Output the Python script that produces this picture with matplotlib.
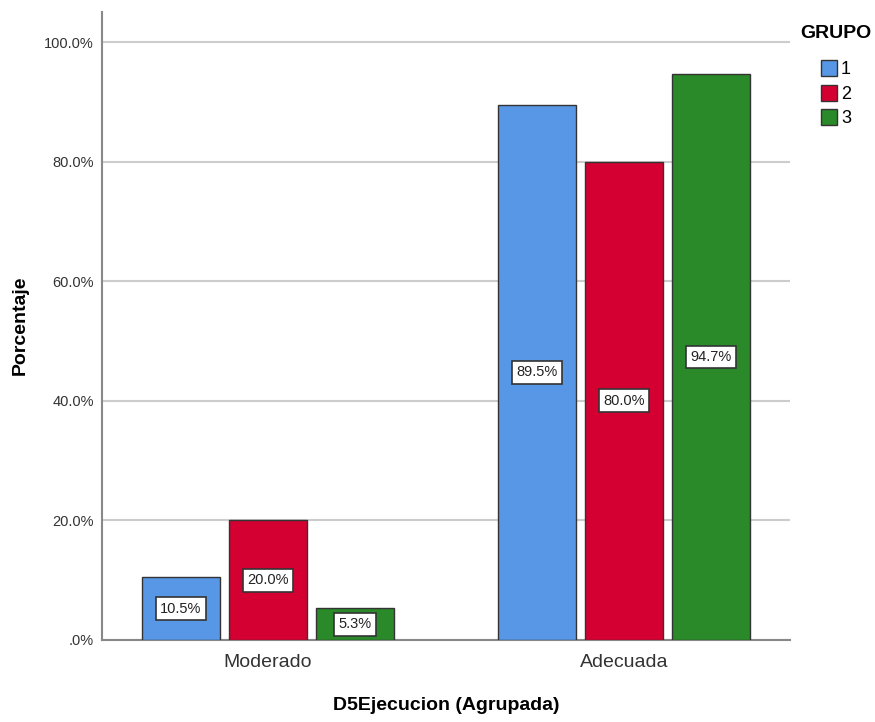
import matplotlib
matplotlib.use('Agg')
import matplotlib.pyplot as plt
import numpy as np

plt.rcParams['font.family'] = ['Liberation Sans', 'DejaVu Sans']

categorias = ['Moderado', 'Adecuada']
grupos = ['1', '2', '3']
grupo1 = [10.5, 89.5]
grupo2 = [20.0, 80.0]
grupo3 = [5.3, 94.7]
colores = ['#5797e6', '#d50032', '#2a8a2a']

fig = plt.figure(figsize=(8.75, 7.22), dpi=100)
ax = fig.add_axes([0.1166, 0.1136, 0.7864, 0.8694])

x = np.arange(len(categorias))
ancho = 0.219
paso = 0.2445
for i, (vals, col, g) in enumerate(zip([grupo1, grupo2, grupo3], colores, grupos)):
    pos = x + (i - 1) * paso
    ax.bar(pos, vals, width=ancho, color=col, edgecolor='#333333', linewidth=1, label=g, zorder=3)
    for p, v in zip(pos, vals):
        ax.text(p, v / 2, f'{v:.1f}%', ha='center', va='center', fontsize=10.5, color='#222222',
                bbox=dict(boxstyle='square,pad=0.3', fc='white', ec='#333333', lw=1.2), zorder=4)

ax.set_xlim(-0.466, 1.466)
ax.set_ylim(0, 105)
ax.set_yticks([0, 20, 40, 60, 80, 100])
ax.set_yticklabels(['.0%', '20.0%', '40.0%', '60.0%', '80.0%', '100.0%'], fontsize=10.5, color='#333333')
ax.set_xticks(x)
ax.set_xticklabels(categorias, fontsize=14, color='#333333')
ax.tick_params(axis='both', length=0, pad=6)
ax.tick_params(axis='x', pad=10)
ax.yaxis.grid(True, color='#cccccc', linewidth=1.5, zorder=0)
ax.set_axisbelow(True)
for s in ['top', 'right']:
    ax.spines[s].set_visible(False)
for s in ['left', 'bottom']:
    ax.spines[s].set_color('#888888')
    ax.spines[s].set_linewidth(1.5)

fig.text(20 / 875, 1 - 325 / 722, 'Porcentaje', rotation=90, ha='center', va='center',
         fontsize=14, fontweight='bold')
fig.text(446 / 875, 1 - 706 / 722, 'D5Ejecucion (Agrupada)', ha='center', va='center',
         fontsize=14, fontweight='bold')

fig.text(800 / 875, 1 - 33 / 722, 'GRUPO', ha='left', va='center', fontsize=14, fontweight='bold')
leg = fig.legend(loc='upper left', bbox_to_anchor=(821 / 875, 1 - 60 / 722), frameon=False,
                 fontsize=13, handlelength=0.9, handleheight=1.0, handletextpad=0.2,
                 labelspacing=0.35, borderaxespad=0.0, borderpad=0.0)

fig.savefig('out.png', dpi=100)
